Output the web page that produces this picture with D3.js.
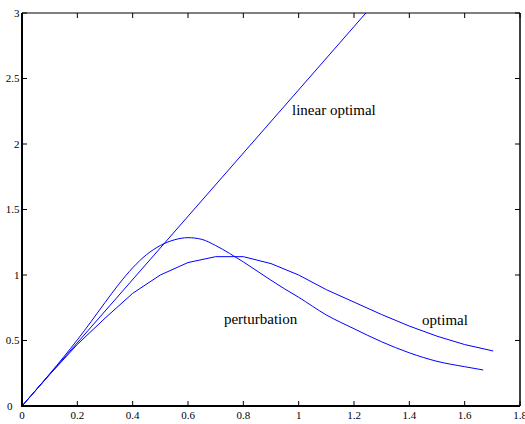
<!DOCTYPE html>
<html>
<head>
<meta charset="utf-8">
<script src="https://cdn.jsdelivr.net/npm/d3@7"></script>
<style>
  html, body { margin: 0; padding: 0; background: #fff; }
  svg { display: block; }
  text { font-family: "Liberation Serif", "Times New Roman", serif; fill: #000; }
</style>
</head>
<body>
<svg id="chart" width="525" height="424"></svg>
<script>
// ---- data ----
const linearX = [0, 1.243];
const linearY = [0, 3.0];

const perturbX = [0, 0.1, 0.2, 0.25, 0.3, 0.35, 0.4, 0.45, 0.5, 0.55, 0.6, 0.65, 0.7, 0.75, 0.8, 0.85, 0.9, 0.95, 1.0, 1.1, 1.2, 1.3, 1.4, 1.5, 1.6, 1.667];
const perturbY = [0, 0.245, 0.505, 0.645, 0.79, 0.93, 1.055, 1.155, 1.225, 1.268, 1.285, 1.272, 1.225, 1.165, 1.10, 1.03, 0.96, 0.893, 0.83, 0.695, 0.59, 0.49, 0.406, 0.341, 0.30, 0.275];

const optimalX = [0, 0.1, 0.2, 0.3, 0.4, 0.5, 0.6, 0.7, 0.8, 0.9, 1.0, 1.1, 1.2, 1.3, 1.4, 1.5, 1.6, 1.703];
const optimalY = [0, 0.24, 0.47, 0.67, 0.86, 1.0, 1.095, 1.14, 1.14, 1.087, 1.0, 0.888, 0.793, 0.698, 0.61, 0.533, 0.469, 0.42];

const xTicks = [0, 0.2, 0.4, 0.6, 0.8, 1, 1.2, 1.4, 1.6, 1.8];
const yTicks = [0, 0.5, 1, 1.5, 2, 2.5, 3];

const labelText = ["linear optimal", "perturbation", "optimal"];
const labelX = [0.976, 0.730, 1.446];
const labelY = [2.221, 0.626, 0.618];

// ---- layout ----
const L = 22, R = 520, T = 13, B = 406;
const svg = d3.select("#chart");
const x = d3.scaleLinear().domain([0, 1.8]).range([L, R]);
const y = d3.scaleLinear().domain([0, 3]).range([B, T]);

const fmt = d => String(d);

// ticks (inward) on all four sides
const tickLen = 5;
const gAx = svg.append("g").attr("stroke", "#000").attr("stroke-width", 1);
xTicks.forEach(v => {
  gAx.append("line").attr("x1", x(v)).attr("x2", x(v)).attr("y1", B).attr("y2", B - tickLen);
  gAx.append("line").attr("x1", x(v)).attr("x2", x(v)).attr("y1", T).attr("y2", T + tickLen);
});
yTicks.forEach(v => {
  gAx.append("line").attr("x1", L).attr("x2", L + tickLen).attr("y1", y(v)).attr("y2", y(v));
  gAx.append("line").attr("x1", R).attr("x2", R - tickLen).attr("y1", y(v)).attr("y2", y(v));
});

// tick labels
svg.append("g").selectAll("text").data(xTicks).join("text")
  .attr("x", d => x(d)).attr("y", 419)
  .attr("text-anchor", "middle").attr("font-size", 11)
  .text(fmt);
svg.append("g").selectAll("text").data(yTicks).join("text")
  .attr("x", d => d === 0 ? 7 : 19.5)
  .attr("y", d => y(d)).attr("dy", "0.35em")
  .attr("text-anchor", d => d === 0 ? "start" : "end")
  .attr("font-size", 11)
  .text(fmt);

// curves
const straight = d3.line().x(d => x(d[0])).y(d => y(d[1]));
const smooth = d3.line().x(d => x(d[0])).y(d => y(d[1])).curve(d3.curveMonotoneX);
const g = svg.append("g").attr("fill", "none").attr("stroke", "#0000ff").attr("stroke-width", 1);
g.append("path").attr("d", straight(d3.zip(linearX, linearY)));
g.append("path").attr("d", smooth(d3.zip(perturbX, perturbY)));
g.append("path").attr("d", straight(d3.zip(optimalX, optimalY)));

// frame
svg.append("line").attr("x1", L).attr("x2", R).attr("y1", T).attr("y2", T).attr("stroke", "#000").attr("stroke-width", 1);
svg.append("line").attr("x1", R).attr("x2", R).attr("y1", T).attr("y2", B).attr("stroke", "#000").attr("stroke-width", 1.5);
svg.append("line").attr("x1", L).attr("x2", L).attr("y1", T).attr("y2", B + 1).attr("stroke", "#000").attr("stroke-width", 2);
svg.append("line").attr("x1", L - 1).attr("x2", R).attr("y1", B).attr("y2", B).attr("stroke", "#000").attr("stroke-width", 2);

// curve labels
svg.append("g").selectAll("text").data(labelText).join("text")
  .attr("x", (d, i) => x(labelX[i]))
  .attr("y", (d, i) => y(labelY[i]))
  .attr("font-size", 15)
  .text(d => d);
</script>
</body>
</html>
